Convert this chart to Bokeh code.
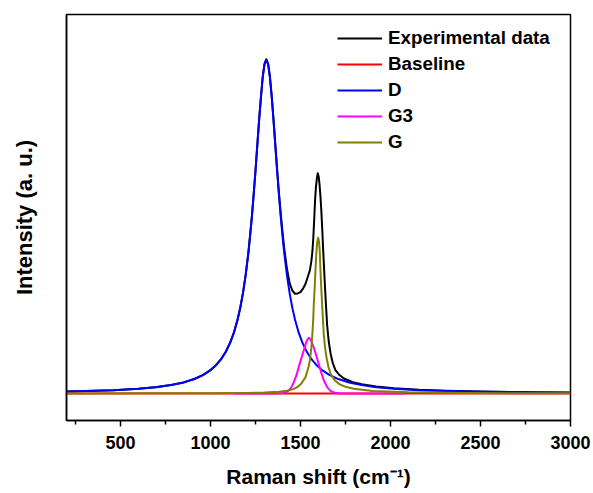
from bokeh.plotting import figure
from bokeh.models import Range1d, FixedTicker, Legend, LegendItem
from bokeh.embed import file_html
from bokeh.resources import INLINE

# ---- data (Raman shift in cm-1, intensity in a.u.) ----
exp_x = [200, 460, 600, 700, 780, 850, 910, 960, 1000, 1030, 1060, 1085, 1110, 1130, 1150,
         1165, 1180, 1195, 1210, 1230, 1250, 1270, 1290, 1300, 1310, 1320, 1330, 1340, 1350,
         1360, 1370, 1380, 1390, 1400, 1410, 1425, 1440, 1455, 1470, 1485, 1500, 1515, 1528,
         1542, 1552, 1560, 1566, 1571, 1576, 1581, 1586, 1591, 1596, 1601, 1606, 1611, 1616,
         1621, 1626, 1631, 1636, 1641, 1648, 1657, 1667, 1680, 1694, 1715, 1741, 1790, 1840,
         1920, 2020, 2160, 2310, 2500, 2800, 3000]
exp_y = [0.0059, 0.0100, 0.0142, 0.0191, 0.0253, 0.0332, 0.0434, 0.0559, 0.0702, 0.0847,
         0.1039, 0.1252, 0.1534, 0.1827, 0.2206, 0.2563, 0.3001, 0.3540, 0.4201, 0.5312,
         0.6684, 0.8200, 0.9490, 0.9880, 1.0020, 0.9890, 0.9505, 0.8925, 0.8225, 0.7475,
         0.6725, 0.6030, 0.5410, 0.4840, 0.4330, 0.3730, 0.3300, 0.3080, 0.2990, 0.3000,
         0.3040, 0.3150, 0.3290, 0.3520, 0.3690, 0.3950, 0.4250, 0.4650, 0.5200, 0.5800,
         0.6200, 0.6450, 0.6600, 0.6500, 0.6250, 0.5900, 0.5450, 0.4900, 0.4300, 0.3750,
         0.3200, 0.2700, 0.2050, 0.1550, 0.1200, 0.0900, 0.0700, 0.0560, 0.0450, 0.0340,
         0.0275, 0.0210, 0.0160, 0.0110, 0.0080, 0.0057, 0.0036, 0.0028]

base_x = [200, 3000]
base_y = [0.0, 0.0]

d_x = [200, 460, 600, 700, 780, 850, 910, 960, 1000, 1030, 1060, 1085, 1110, 1130, 1150,
       1165, 1180, 1195, 1210, 1220, 1230, 1240, 1250, 1260, 1270, 1280, 1290, 1300, 1310,
       1320, 1330, 1340, 1350, 1360, 1370, 1380, 1390, 1400, 1410, 1425, 1440, 1455, 1470,
       1490, 1510, 1535, 1560, 1590, 1620, 1660, 1710, 1770, 1840, 1920, 2020, 2160, 2310,
       2500, 2800, 3000]
d_y = [0.0058, 0.0099, 0.0141, 0.0190, 0.0251, 0.0330, 0.0432, 0.0557, 0.0699, 0.0844,
       0.1036, 0.1249, 0.1530, 0.1823, 0.2201, 0.2558, 0.2995, 0.3533, 0.4194, 0.4715,
       0.5303, 0.5959, 0.6674, 0.7429, 0.8187, 0.8892, 0.9475, 0.9863, 1.0000, 0.9863,
       0.9475, 0.8892, 0.8187, 0.7429, 0.6674, 0.5959, 0.5303, 0.4715, 0.4194, 0.3533,
       0.2995, 0.2558, 0.2201, 0.1823, 0.1530, 0.1249, 0.1036, 0.0844, 0.0699, 0.0557,
       0.0432, 0.0330, 0.0251, 0.0190, 0.0141, 0.0099, 0.0072, 0.0051, 0.0032, 0.0025]

g3_x = [1130, 1300, 1400, 1420, 1435, 1450, 1463, 1477, 1490, 1505, 1518, 1532, 1540, 1547,
        1554, 1563, 1574, 1588, 1602, 1616, 1630, 1648, 1667, 1690, 1720, 2080]
g3_y = [0.0, 0.0, 0.001, 0.004, 0.009, 0.019, 0.034, 0.054, 0.079, 0.106, 0.129, 0.154,
        0.163, 0.167, 0.163, 0.153, 0.137, 0.113, 0.087, 0.061, 0.039, 0.019, 0.008, 0.002,
        0.0, 0.0]

g_x = [200, 600, 1000, 1200, 1300, 1380, 1426, 1460, 1482, 1505, 1528, 1545, 1552, 1560,
       1565, 1570, 1574, 1579, 1583, 1588, 1593, 1598, 1603, 1607, 1611, 1615, 1620, 1625,
       1629, 1636, 1644, 1655, 1667, 1690, 1713, 1750, 1796, 1900, 2100, 2400, 2700, 3000]
g_y = [0.0002, 0.0004, 0.0010, 0.0018, 0.0030, 0.0055, 0.0080, 0.0130, 0.019, 0.030,
       0.049, 0.080, 0.099, 0.135, 0.169, 0.215, 0.269, 0.320, 0.369, 0.420, 0.455, 0.467,
       0.455, 0.425, 0.369, 0.320, 0.269, 0.220, 0.179, 0.140, 0.109, 0.080, 0.059, 0.040,
       0.029, 0.020, 0.014, 0.0075, 0.0035, 0.0015, 0.0008, 0.0005]

series_names = ["Experimental data", "Baseline", "D", "G3", "G"]
series_colors = ["#000000", "#FF0000", "#0000FF", "#FF00FF", "#808000"]

x_major_ticks = [500, 1000, 1500, 2000, 2500, 3000]
x_minor_ticks = [250, 750, 1250, 1750, 2250, 2750]
x_tick_labels = ["500", "1000", "1500", "2000", "2500", "3000"]

FONT = "Liberation Sans"

p = figure(width=593, height=493, output_backend="svg", toolbar_location=None,
           x_range=Range1d(200, 3000), y_range=Range1d(-0.081, 1.136),
           min_border_left=66, min_border_right=23, min_border_top=14, min_border_bottom=73)
p.background_fill_color = "white"
p.border_fill_color = "white"
p.outline_line_color = "black"
p.outline_line_width = 1.5
p.xgrid.visible = False
p.ygrid.visible = False

all_x = [exp_x, base_x, d_x, g3_x, g_x]
all_y = [exp_y, base_y, d_y, g3_y, g_y]
renderers = []
for xs, ys, c in zip(all_x, all_y, series_colors):
    r = p.line(x=xs, y=ys, line_color=c, line_width=2, line_join="round")
    renderers.append(r)

# x axis
xa = p.xaxis[0]
xa.ticker = FixedTicker(ticks=x_major_ticks, minor_ticks=x_minor_ticks)
xa.major_label_overrides = {t: l for t, l in zip(x_major_ticks, x_tick_labels)}
xa.axis_label = "Raman shift (cm\u207b\u00b9)"
xa.axis_label_text_font = FONT
xa.axis_label_text_font_style = "bold"
xa.axis_label_text_font_size = "21px"
xa.axis_label_text_color = "black"
xa.axis_label_standoff = 13
xa.major_label_text_font = FONT
xa.major_label_text_font_style = "bold"
xa.major_label_text_font_size = "18px"
xa.major_label_text_color = "black"
xa.major_label_standoff = 9
xa.major_tick_in = 0
xa.major_tick_out = 6
xa.minor_tick_in = 0
xa.minor_tick_out = 4
xa.major_tick_line_width = 1.5
xa.minor_tick_line_width = 1.5
xa.axis_line_width = 1.5
xa.major_tick_line_color = "black"
xa.minor_tick_line_color = "black"
xa.axis_line_color = "black"

# y axis (no ticks, no labels)
ya = p.yaxis[0]
ya.ticker = FixedTicker(ticks=[], minor_ticks=[])
ya.axis_label = "Intensity (a. u.)"
ya.axis_label_text_font = FONT
ya.axis_label_text_font_style = "bold"
ya.axis_label_text_font_size = "22px"
ya.axis_label_text_color = "black"
ya.axis_label_standoff = 30
ya.major_tick_in = 0
ya.major_tick_out = 0
ya.minor_tick_in = 0
ya.minor_tick_out = 0
ya.axis_line_width = 1.5
ya.axis_line_color = "black"

legend = Legend(items=[LegendItem(label=n, renderers=[r]) for n, r in zip(series_names, renderers)],
                location=(271, 267), orientation="vertical")
legend.border_line_color = None
legend.background_fill_alpha = 0
legend.padding = 0
legend.margin = 0
legend.spacing = 4
legend.glyph_width = 45
legend.glyph_height = 20
legend.label_height = 20
legend.label_standoff = 6
legend.label_text_font = FONT
legend.label_text_font_style = "bold"
legend.label_text_font_size = "18.8px"
legend.label_text_color = "black"
p.add_layout(legend, "center")

open("out.html", "w").write(file_html(p, INLINE))
